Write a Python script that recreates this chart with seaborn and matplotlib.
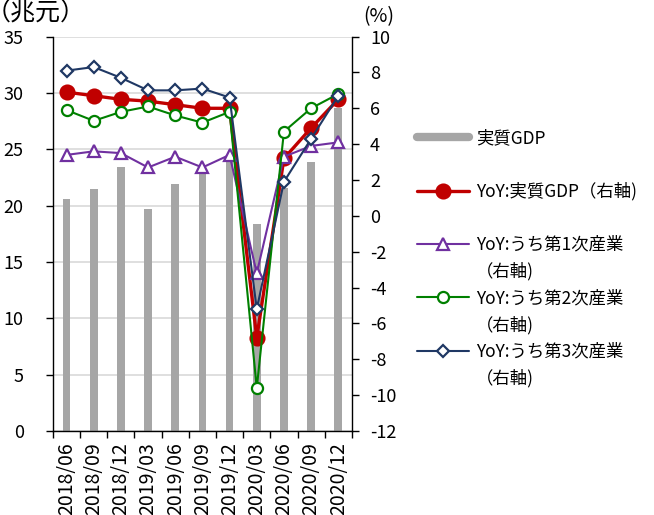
import numpy as np
import pandas as pd
import matplotlib
matplotlib.use("Agg")
import matplotlib.pyplot as plt
from matplotlib.lines import Line2D
from matplotlib.ticker import FixedLocator, MultipleLocator
import seaborn as sns

# Quarterly data
quarters = ["2018/06", "2018/09", "2018/12", "2019/03", "2019/06", "2019/09",
            "2019/12", "2020/03", "2020/06", "2020/09", "2020/12"]
real_gdp = [20.6, 21.5, 23.4, 19.7, 21.9, 22.8, 23.9, 18.4, 21.6, 23.9, 28.7]   # 兆元
yoy_gdp = [6.9, 6.7, 6.5, 6.4, 6.2, 6.0, 6.0, -6.8, 3.2, 4.9, 6.5]              # %
yoy_primary = [3.4, 3.6, 3.5, 2.7, 3.3, 2.7, 3.4, -3.2, 3.3, 3.9, 4.1]
yoy_secondary = [5.9, 5.3, 5.8, 6.1, 5.6, 5.2, 5.8, -9.6, 4.7, 6.0, 6.8]
yoy_tertiary = [8.1, 8.3, 7.7, 7.0, 7.0, 7.1, 6.6, -5.2, 1.9, 4.3, 6.7]

bar_label = "実質GDP"
line_labels = ["YoY:実質GDP（右軸)", "YoY:うち第1次産業", "YoY:うち第2次産業", "YoY:うち第3次産業"]
axis_note = "（右軸)"

sns.set_theme(style="white")
plt.rcParams["font.family"] = ["Noto Sans CJK JP", "DejaVu Sans"]
plt.rcParams["text.color"] = "black"
plt.rcParams["xtick.color"] = "black"
plt.rcParams["ytick.color"] = "black"
plt.rcParams["axes.unicode_minus"] = False

fig = plt.figure(figsize=(6.54, 5.15), dpi=100)
ax = fig.add_axes([0.081, 0.163, 0.457, 0.766])

df = pd.DataFrame({"quarter": quarters, "gdp": real_gdp})
sns.barplot(data=df, x="quarter", y="gdp", color="#A6A6A6", saturation=1,
            width=0.28, linewidth=0, ax=ax, zorder=2)

ax.set_xlim(-0.5, len(quarters) - 0.5)
ax.set_ylim(0, 35)
ax.yaxis.set_major_locator(MultipleLocator(5))
ax.yaxis.grid(True, color="#D9D9D9", lw=1.2)
ax.set_axisbelow(True)
ax.set_xlabel("")
ax.set_ylabel("")

ax2 = ax.twinx()
styles = [
    (yoy_gdp, "#C00000", "o", 10, "#C00000", 2.4),
    (yoy_primary, "#7030A0", "^", 8, "white", 1.5),
    (yoy_secondary, "#008000", "o", 8, "white", 1.5),
    (yoy_tertiary, "#1F3864", "D", 6.5, "white", 1.5),
]
for vals, col, mk, ms, fc, lw in styles:
    sns.lineplot(x=quarters, y=vals, ax=ax2, sort=False, color=col, lw=lw,
                 marker=mk, markersize=ms, markerfacecolor=fc,
                 markeredgecolor=col, markeredgewidth=1.6, legend=False)

ax2.set_ylim(-12, 10)
ax2.yaxis.set_major_locator(MultipleLocator(2))
ax2.set_ylabel("")
ax2.set_xlabel("")

# axes styling
for a in (ax, ax2):
    for s in a.spines.values():
        s.set_color("black")
        s.set_linewidth(1.0)
    a.spines["top"].set_visible(False)
ax.spines["right"].set_visible(False)
ax2.spines["left"].set_visible(False)
ax2.spines["bottom"].set_visible(False)

ax.set_xticks(range(len(quarters)))
ax.set_xticklabels(quarters, rotation=90, fontsize=14)
ax.xaxis.set_minor_locator(FixedLocator(np.arange(-0.5, len(quarters), 1.0)))
ax.tick_params(axis="x", which="major", length=0, pad=8, bottom=True)
ax.tick_params(axis="x", which="minor", length=5, width=1, direction="out", bottom=True)
ax.tick_params(axis="y", left=True, length=5, width=1, direction="out", pad=16, labelsize=13)
ax2.tick_params(axis="y", right=True, length=5, width=1, direction="out", pad=8, labelsize=13)

# axis unit captions
fig.text(-0.022, 0.976, "（兆元）", fontsize=18, va="center", ha="left")
fig.text(0.556, 0.968, "(%)", fontsize=14, va="center", ha="left")

# legend
blank = Line2D([], [], color="none")
h_bar = Line2D([], [], color="#A6A6A6", lw=6)
line_handles = [Line2D([], [], color=col, lw=lw, marker=mk, markersize=ms,
                       markerfacecolor=fc, markeredgecolor=col, markeredgewidth=1.6)
                for _, col, mk, ms, fc, lw in styles]
handles = [h_bar, blank, line_handles[0], blank,
           line_handles[1], blank, line_handles[2], blank, line_handles[3], blank]
labels = [bar_label, " ", line_labels[0], " ",
          line_labels[1], axis_note, line_labels[2], axis_note, line_labels[3], axis_note]
fig.legend(handles, labels, loc="upper left", bbox_to_anchor=(0.638, 0.749),
           frameon=False, fontsize=12.5, handlelength=3.0, handletextpad=0.4,
           labelspacing=0.49, borderpad=0, borderaxespad=0)

fig.savefig("out.png", dpi=100)
